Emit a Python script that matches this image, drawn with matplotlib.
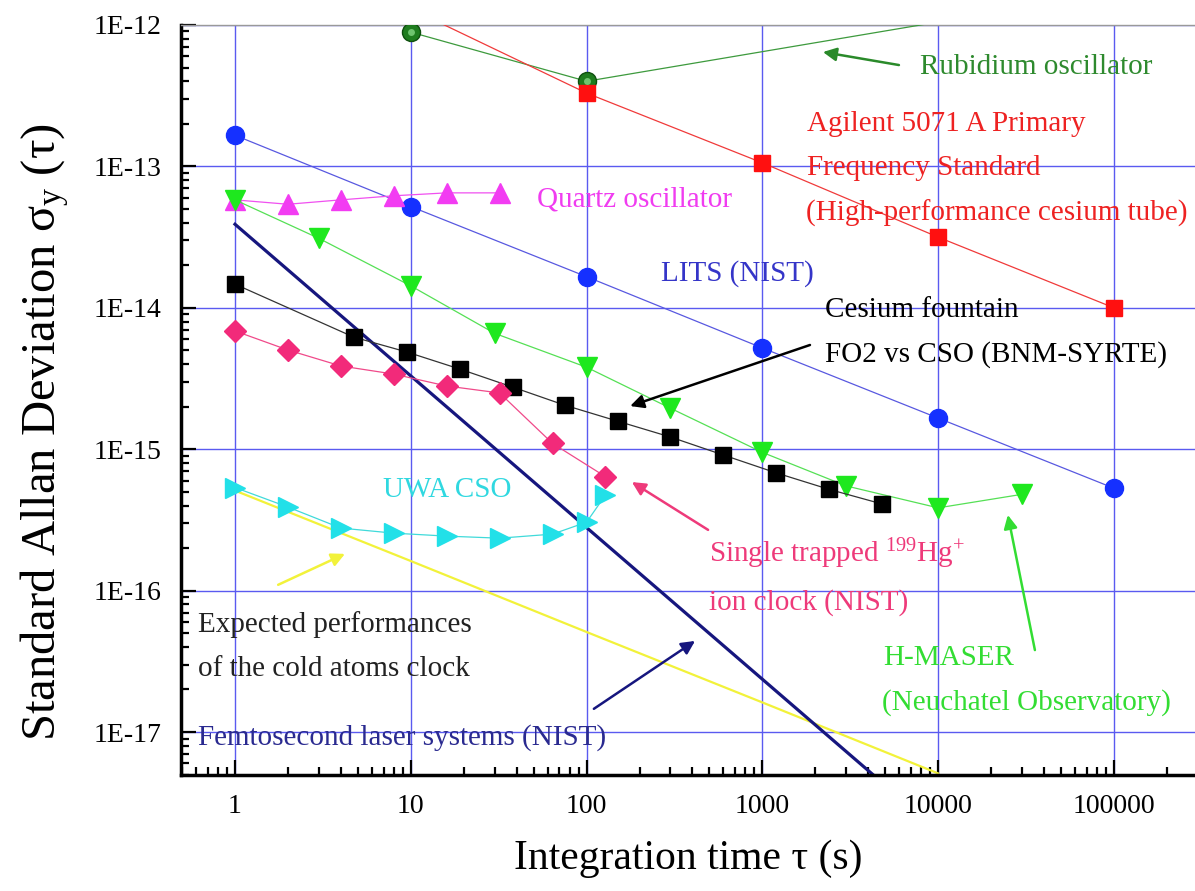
import matplotlib
matplotlib.use("Agg")
import matplotlib.pyplot as plt

# values (tau in s, sigma_y)
rb_tau = [10, 100, 100000]
rb_sig = [8.9e-13, 4.0e-13, 1.7e-12]

cs_tube_tau = [10, 100, 1000, 10000, 100000]
cs_tube_sig = [1.3e-12, 3.3e-13, 1.06e-13, 3.16e-14, 1.0e-14]

lits_tau = [1, 10, 100, 1000, 10000, 100000]
lits_sig = [1.66e-13, 5.2e-14, 1.66e-14, 5.2e-15, 1.66e-15, 5.3e-16]

quartz_tau = [1, 2, 4, 8, 16, 32]
quartz_sig = [5.8e-14, 5.4e-14, 5.8e-14, 6.2e-14, 6.5e-14, 6.5e-14]

maser_tau = [1, 3, 10, 30, 100, 300, 1000, 3000, 10000, 30000]
maser_sig = [5.8e-14, 3.1e-14, 1.43e-14, 6.6e-15, 3.8e-15, 1.95e-15,
             9.5e-16, 5.5e-16, 3.85e-16, 4.8e-16]

fountain_tau = [1, 4.75, 9.5, 19, 38, 75, 150, 300, 600, 1200, 2400, 4800]
fountain_sig = [1.47e-14, 6.2e-15, 4.87e-15, 3.69e-15, 2.75e-15, 2.05e-15,
                1.58e-15, 1.22e-15, 9.1e-16, 6.8e-16, 5.2e-16, 4.1e-16]

hg_tau = [1, 2, 4, 8, 16, 32, 64, 128]
hg_sig = [6.86e-15, 5.03e-15, 3.88e-15, 3.4e-15, 2.8e-15, 2.5e-15, 1.1e-15, 6.4e-16]

uwa_tau = [1, 2, 4, 8, 16, 32, 64, 100, 128]
uwa_sig = [5.36e-16, 3.9e-16, 2.77e-16, 2.55e-16, 2.43e-16, 2.35e-16,
           2.51e-16, 3.05e-16, 4.74e-16]

cold_tau = [1, 10, 100, 1000, 10000]
cold_sig = [5.1e-16, 1.62e-16, 5.1e-17, 1.62e-17, 5.1e-18]

femto_tau = [1, 10000]
femto_sig = [3.9e-14, 2.0e-18]

xticks = [1, 10, 100, 1000, 10000, 100000]
xticklabels = ["1", "10", "100", "1000", "10000", "100000"]
yticks = [1e-17, 1e-16, 1e-15, 1e-14, 1e-13, 1e-12]
yticklabels = ["1E-17", "1E-16", "1E-15", "1E-14", "1E-13", "1E-12"]

plt.rcParams["font.family"] = ["Liberation Serif", "DejaVu Serif"]
plt.rcParams["mathtext.fontset"] = "custom"
plt.rcParams["mathtext.rm"] = "Liberation Serif"
plt.rcParams["mathtext.it"] = "Liberation Serif:italic"

fig = plt.figure(figsize=(11.95, 8.91), dpi=100)
ax = fig.add_axes([181 / 1195, 1 - 775 / 891, 1 - 181 / 1195, (775 - 25) / 891])
ax.set_xscale("log")
ax.set_yscale("log")
ax.set_xlim(0.493, 2.89e5)
ax.set_ylim(4.97e-18, 1e-12)

ax.grid(True, which="major", color="#5a5af0", lw=1.0)
ax.set_axisbelow(True)

lw = 0.9
ax.plot(rb_tau, rb_sig, "-", color="#3d9a3d", lw=lw, marker="o", ms=13,
        mfc="#1f7d1f", mec="#0e4f0e", zorder=3)
# small highlight to mimic the shaded spheres
ax.plot(rb_tau, rb_sig, "none", marker="o", ms=5, mfc="#6fc46f", mec="none", zorder=4)
ax.plot(cs_tube_tau, cs_tube_sig, "-", color="#f03a3a", lw=lw, marker="s", ms=11,
        mfc="#ff1010", mec="#ff1010", zorder=3)
ax.plot(lits_tau, lits_sig, "-", color="#5858e0", lw=lw, marker="o", ms=13,
        mfc="#1530ff", mec="#1530ff", zorder=3)
ax.plot(quartz_tau, quartz_sig, "-", color="#f050f0", lw=lw, marker="^", ms=14,
        mfc="#f23cf2", mec="#f23cf2", zorder=3)
ax.plot(maser_tau, maser_sig, "-", color="#55e055", lw=lw, marker="v", ms=14,
        mfc="#1ee81e", mec="#1ee81e", zorder=3)
ax.plot(fountain_tau, fountain_sig, "-", color="#333333", lw=lw, marker="s", ms=11,
        mfc="black", mec="black", zorder=3)
ax.plot(hg_tau, hg_sig, "-", color="#f04a8a", lw=lw, marker="D", ms=11,
        mfc="#f22a7a", mec="#f22a7a", zorder=3)
ax.plot(uwa_tau, uwa_sig, "-", color="#40dada", lw=lw, marker=">", ms=14,
        mfc="#22e0e8", mec="#22e0e8", zorder=3)
ax.plot(cold_tau, cold_sig, "-", color="#f2f23a", lw=1.6, zorder=2)
ax.plot(femto_tau, femto_sig, "-", color="#16167e", lw=2.3, zorder=2)

fs = 21
ax.text(7890, 5.05e-13, "Rubidium oscillator", color="#2e8a2e", fontsize=fs, va="center")
ax.text(1795, 2.0e-13, "Agilent 5071 A Primary", color="#ee2222", fontsize=fs, va="center")
ax.text(1795, 9.75e-14, "Frequency Standard", color="#ee2222", fontsize=fs, va="center")
ax.text(1760, 4.68e-14, "(High-performance cesium tube)", color="#ee2222", fontsize=fs, va="center")
ax.text(52, 5.8e-14, "Quartz oscillator", color="#f03cf0", fontsize=fs, va="center")
ax.text(265, 1.76e-14, "LITS (NIST)", color="#3535c8", fontsize=fs, va="center")
ax.text(2270, 9.6e-15, "Cesium fountain", color="black", fontsize=fs, va="center")
ax.text(2270, 4.64e-15, "FO2 vs CSO (BNM-SYRTE)", color="black", fontsize=fs, va="center")
ax.text(6.95, 5.14e-16, "UWA CSO", color="#30d8e0", fontsize=fs, va="center")
ax.text(497, 1.82e-16, r"Single trapped $^{199}$Hg$^{+}$", color="#ee3a7a", fontsize=fs, va="center")
ax.text(497, 8.2e-17, "ion clock (NIST)", color="#ee3a7a", fontsize=fs, va="center")
ax.text(4850, 3.33e-17, "H-MASER", color="#33dd33", fontsize=fs, va="center")
ax.text(4800, 1.63e-17, "(Neuchatel Observatory)", color="#33dd33", fontsize=fs, va="center")
ax.text(0.616, 5.8e-17, "Expected performances", color="#222222", fontsize=fs, va="center")
ax.text(0.616, 2.79e-17, "of the cold atoms clock", color="#222222", fontsize=fs, va="center")
ax.text(0.616, 9.1e-18, "Femtosecond laser systems (NIST)", color="#2a2a90", fontsize=fs, va="center")

def arrow(head, tail, color):
    ax.annotate("", xy=head, xytext=tail,
                arrowprops=dict(arrowstyle="-|>", color=color, lw=1.8,
                                mutation_scale=20, shrinkA=0, shrinkB=0))

arrow((2210, 6.44e-13), (5980, 5.21e-13), "#2a8a2a")
arrow((177, 2.02e-15), (1865, 5.46e-15), "black")
arrow((181, 5.86e-16), (491, 2.69e-16), "#ee3a7a")
arrow((24900, 3.43e-16), (35500, 3.8e-17), "#33dd33")
arrow((4.22, 1.82e-16), (1.76, 1.1e-16), "#f2f23a")
arrow((414, 4.41e-17), (110, 1.46e-17), "#16167e")

ax.set_xticks(xticks)
ax.set_xticklabels(xticklabels)
ax.set_yticks(yticks)
ax.set_yticklabels(yticklabels)
ax.tick_params(which="both", direction="in", width=1.6, labelsize=20)
ax.tick_params(which="major", length=11)
ax.tick_params(which="minor", length=6)
ax.tick_params(axis="x", pad=14)
ax.tick_params(axis="y", pad=14)

ax.spines["right"].set_visible(False)
ax.spines["top"].set_color("#999999")
ax.spines["top"].set_linewidth(1.0)
ax.spines["left"].set_linewidth(2.5)
ax.spines["bottom"].set_linewidth(2.5)

ax.set_xlabel("Integration time τ (s)", fontsize=30, va="center")
ax.xaxis.set_label_coords(0.5, -0.111)
ax.set_ylabel(r"Standard Allan Deviation $\mathrm{\sigma_y}$ (τ)", fontsize=35, va="center")
ax.yaxis.set_label_coords(-0.134, 0.457)

fig.savefig("out.png", dpi=100)
